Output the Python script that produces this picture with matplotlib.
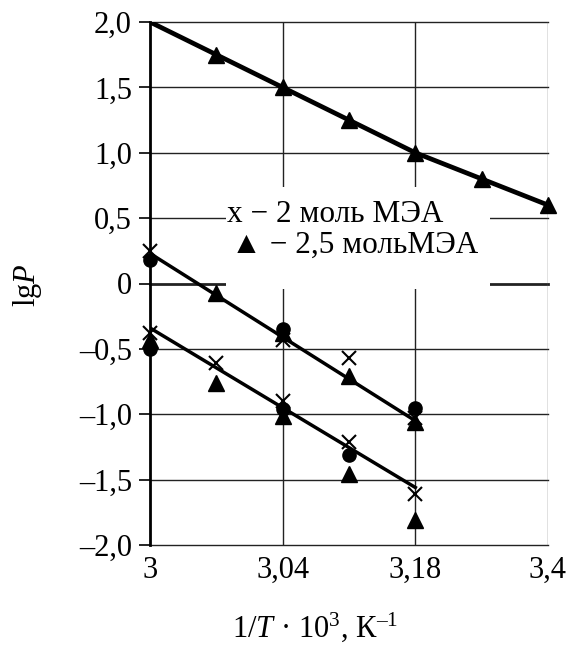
import matplotlib
matplotlib.use("Agg")
import matplotlib.pyplot as plt
from matplotlib.patches import Rectangle

plt.rcParams['font.family'] = ['Liberation Serif', 'DejaVu Sans']
plt.rcParams['mathtext.fontset'] = 'custom'
plt.rcParams['mathtext.rm'] = 'Liberation Serif'
plt.rcParams['mathtext.it'] = 'Liberation Serif:italic'

# x axis: evenly spaced temperature points, labelled at every second point
x_ticks = [0, 2, 4, 6]
x_tick_labels = ["3", "3,04", "3,18", "3,4"]
y_ticks = [2.0, 1.5, 1.0, 0.5, 0.0, -0.5, -1.0, -1.5, -2.0]
y_tick_labels = ["2,0", "1,5", "1,0", "0,5", "0", "–0,5", "–1,0", "–1,5", "–2,0"]

# upper curve (2.5 mol MEA)
top_x = [0, 1, 2, 3, 4, 5, 6]
top_y = [2.0, 1.75, 1.5, 1.25, 1.0, 0.8, 0.6]
top_tri_x = [1, 2, 3, 4, 5, 6]
top_tri_y = [1.75, 1.5, 1.25, 1.0, 0.8, 0.6]

# middle group
mid_fit_x = [0, 4]
mid_fit_y = [0.23, -1.05]
mid_cross_x = [0, 2, 3, 4]
mid_cross_y = [0.25, -0.43, -0.57, -1.03]
mid_circ_x = [0, 2, 4]
mid_circ_y = [0.18, -0.35, -0.95]
mid_tri_x = [1, 2, 3, 4]
mid_tri_y = [-0.07, -0.38, -0.71, -1.06]

# lower group
low_fit_x = [0, 4]
low_fit_y = [-0.34, -1.56]
low_cross_x = [0, 1, 2, 3, 4]
low_cross_y = [-0.38, -0.61, -0.90, -1.21, -1.61]
low_circ_x = [0, 2, 3]
low_circ_y = [-0.50, -0.96, -1.31]
low_tri_x = [0, 1, 2, 3, 4]
low_tri_y = [-0.43, -0.76, -1.01, -1.46, -1.81]

W, H = 571, 653
fig = plt.figure(figsize=(W/100, H/100), dpi=100)
ax = fig.add_axes([150/W, 1-545/H, 398/W, 523/H])
ax.set_xlim(0, 6)
ax.set_ylim(-2, 2)

for s in ['top', 'right', 'bottom']:
    ax.spines[s].set_visible(False)
ax.spines['left'].set_linewidth(2.0)
ax.spines['left'].set_zorder(4)

ax.set_xticks(x_ticks)
ax.set_xticklabels(x_tick_labels, fontsize=22)
ax.set_yticks(y_ticks)
ax.set_yticklabels(y_tick_labels, fontsize=22)
ax.tick_params(axis='x', length=0, pad=8)
ax.tick_params(axis='y', length=8, width=1.2, pad=5)

# grid
for yv in y_ticks:
    ax.axhline(yv, color='#222222', lw=2.0 if yv == 0 else 1.0, zorder=1, clip_on=False)
for xv in x_ticks[1:]:
    ax.axvline(xv, color='#666666' if xv == 6 else '#222222', lw=1.0, zorder=1)

# legend panel
ax.add_patch(Rectangle((1.15, -0.04), 3.98, 0.78, facecolor='white', edgecolor='none', zorder=2))
ax.text(1.16, 0.47, "x − 2 моль МЭА", fontsize=22.5, ha='left', va='baseline', zorder=5)
ax.text(1.22, 0.233, "▲ − 2,5 мольМЭА", fontsize=22.5, ha='left', va='baseline', zorder=5)

# lines
ax.plot(top_x, top_y, color='black', lw=3.4, zorder=3, solid_capstyle='butt')
ax.plot(mid_fit_x, mid_fit_y, color='black', lw=2.5, zorder=3)
ax.plot(low_fit_x, low_fit_y, color='black', lw=2.5, zorder=3)

tri = dict(marker='^', ls='none', color='black', ms=11.5, zorder=4, clip_on=False)
circ = dict(marker='o', ls='none', color='black', ms=9.5, zorder=4, clip_on=False)
cross = dict(marker='x', ls='none', color='black', ms=10.5, mew=1.5, zorder=4, clip_on=False)

ax.plot(top_tri_x, top_tri_y, **tri)
ax.plot(mid_circ_x, mid_circ_y, **circ)
ax.plot(mid_tri_x, mid_tri_y, **tri)
ax.plot(mid_cross_x, mid_cross_y, **cross)
ax.plot(low_circ_x, low_circ_y, **circ)
ax.plot(low_tri_x, low_tri_y, **tri)
ax.plot(low_cross_x, low_cross_y, **cross)

fig.text(27/W, 1-285/H, r"lg$\mathit{P}$", fontsize=22, rotation=90, ha='center', va='center')
fig.text(315/W, 1-637/H, r"1/$\mathit{T}$ · 10$^3$, К$^{\mathrm{–1}}$", fontsize=22, ha='center', va='baseline')

fig.savefig("out.png", dpi=100)
